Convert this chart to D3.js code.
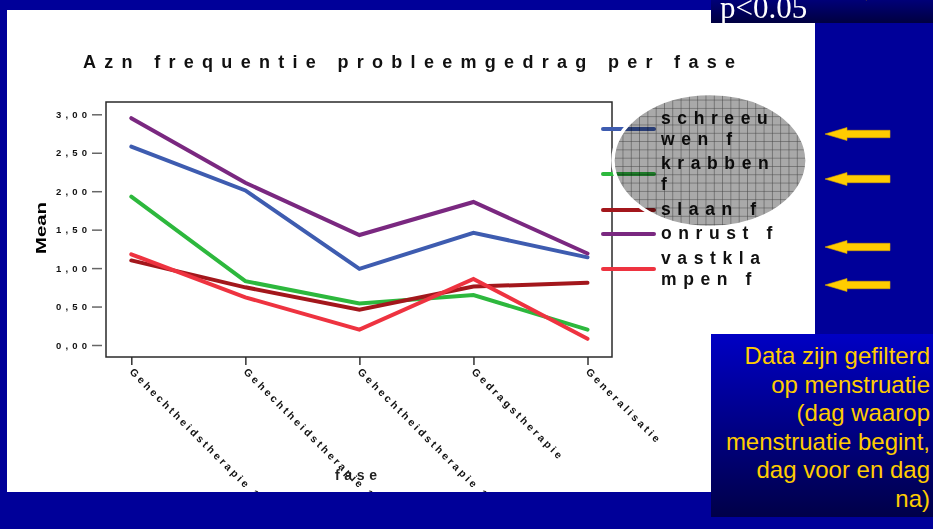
<!DOCTYPE html>
<html>
<head>
<meta charset="utf-8">
<script src="https://cdn.jsdelivr.net/npm/d3@7"></script>
<style>
  html, body { margin: 0; padding: 0; background: #000099; }
  svg { display: block; font-family: Arial, "Liberation Sans", sans-serif; }
</style>
</head>
<body>
<div id="chart"></div>
<script>
var phases = ["Gehechtheidstherapie 1", "Gehechtheidstherapie 1", "Gehechtheidstherapie 1", "Gedragstherapie", "Generalisatie"];
var seriesNames = ["schreeuwen f", "krabben f", "slaan f", "onrust f", "vastklampen f"];
var legendLines = [["schreeu", "wen f"], ["krabben", "f"], ["slaan f"], ["onrust f"], ["vastkla", "mpen f"]];
var schreeuwen = [2.58, 2.01, 0.99, 1.46, 1.14];
var krabben = [1.93, 0.83, 0.54, 0.65, 0.20];
var slaan = [1.10, 0.75, 0.46, 0.76, 0.81];
var onrust = [2.95, 2.11, 1.43, 1.86, 1.19];
var vastklampen = [1.18, 0.62, 0.20, 0.86, 0.08];
var yTicks = [0, 0.5, 1, 1.5, 2, 2.5, 3];
var colors = ["#3e5cb0", "#2db83d", "#a3171c", "#7a2880", "#ee3340"];
var noteLines = ["Data zijn gefilterd", "op menstruatie", "(dag waarop", "menstruatie begint,", "dag voor en dag", "na)"];

var series = [schreeuwen, krabben, slaan, onrust, vastklampen].map(function(v, i) {
  return {name: seriesNames[i], values: v, color: colors[i], label: legendLines[i]};
});

// layout
var W = 933, H = 529;
var frame = {left: 106, top: 102, right: 612, bottom: 357};
var legendY = [129, 174, 210, 234, 269];
var arrowY = [-6.5, 134, 179, 247, 285];
var arrowX = [845, 825, 825, 825, 825];

var svg = d3.select("#chart").append("svg")
    .attr("width", W)
    .attr("height", H);

var defs = svg.append("defs");

var grad = defs.append("linearGradient").attr("id", "noteGrad")
    .attr("x1", 0).attr("y1", 0).attr("x2", 0).attr("y2", 1);
grad.append("stop").attr("offset", "0%").attr("stop-color", "#0000c4");
grad.append("stop").attr("offset", "100%").attr("stop-color", "#000048");

var grad2 = defs.append("linearGradient").attr("id", "pGrad")
    .attr("x1", 0).attr("y1", 0).attr("x2", 0).attr("y2", 1);
grad2.append("stop").attr("offset", "0%").attr("stop-color", "#000078");
grad2.append("stop").attr("offset", "100%").attr("stop-color", "#000040");

var pat = defs.append("pattern").attr("id", "grid")
    .attr("patternUnits", "userSpaceOnUse")
    .attr("width", 8.3).attr("height", 8.3);
pat.append("rect").attr("width", 8.3).attr("height", 8.3).attr("fill", "#a9a9a9");
pat.append("path").attr("d", "M0,0H8.3M0,0V8.3")
    .attr("stroke", "#444").attr("stroke-width", 1);

svg.append("rect").attr("width", W).attr("height", H).attr("fill", "#000099");
svg.append("rect").attr("x", 7).attr("y", 10).attr("width", 808).attr("height", 482).attr("fill", "#fff");

var x = d3.scalePoint()
    .domain(d3.range(phases.length))
    .range([131.3, 587.5]);

var y = d3.scaleLinear()
    .domain([0, 3])
    .range([345, 114.3]);

svg.append("text")
    .attr("x", 83).attr("y", 68)
    .attr("textLength", 652).attr("lengthAdjust", "spacing")
    .style("font-size", "18px").style("font-weight", "bold").attr("fill", "#111")
    .text("Azn frequentie probleemgedrag per fase");

// y axis
var yAxis = svg.append("g")
    .attr("transform", "translate(102,0)")
    .call(d3.axisLeft(y).tickValues(yTicks).tickSize(10).tickPadding(5)
      .tickFormat(function(d) { return d3.format(".2f")(d).replace(".", ","); }));
yAxis.select(".domain").remove();
yAxis.selectAll("line").attr("stroke", "#666").attr("stroke-width", 1.5);
yAxis.selectAll("text")
    .attr("textLength", 31).attr("lengthAdjust", "spacing")
    .style("font-size", "9.5px").style("font-weight", "bold").attr("fill", "#111");

// x axis
var xAxis = svg.append("g")
    .attr("transform", "translate(0," + frame.bottom + ")")
    .call(d3.axisBottom(x).tickSize(8).tickFormat(function(i) { return phases[i]; }));
xAxis.select(".domain").remove();
xAxis.selectAll("line").attr("stroke", "#333").attr("stroke-width", 1.5);
xAxis.selectAll("text")
    .attr("x", 9).attr("y", 13).attr("dy", 0)
    .attr("transform", "rotate(45)")
    .style("text-anchor", "start")
    .style("font-size", "10.5px").style("font-weight", "bold")
    .style("letter-spacing", "2.8px").attr("fill", "#111");

svg.append("text")
    .attr("x", 335).attr("y", 480)
    .attr("textLength", 42).attr("lengthAdjust", "spacing")
    .style("font-size", "14px").style("font-weight", "bold").attr("fill", "#222")
    .text("fase");

svg.append("text")
    .attr("transform", "translate(46,228) rotate(-90)")
    .attr("text-anchor", "middle")
    .attr("textLength", 52).attr("lengthAdjust", "spacingAndGlyphs")
    .style("font-size", "14px").style("font-weight", "bold")
    .text("Mean");

var line = d3.line()
    .x(function(d, i) { return x(i); })
    .y(function(d) { return y(d); });

svg.selectAll(".series")
    .data(series)
    .enter().append("path")
      .attr("class", "series")
      .attr("d", function(d) { return line(d.values); })
      .attr("fill", "none")
      .attr("stroke", function(d) { return d.color; })
      .attr("stroke-width", 4)
      .attr("stroke-linecap", "round");

svg.append("rect")
    .attr("x", frame.left).attr("y", frame.top)
    .attr("width", frame.right - frame.left).attr("height", frame.bottom - frame.top)
    .attr("fill", "none").attr("stroke", "#2a2a2a").attr("stroke-width", 1.5);

// legend
var leg = svg.selectAll(".leg")
    .data(series)
    .enter().append("g")
      .attr("class", "leg")
      .attr("transform", function(d, i) { return "translate(0," + legendY[i] + ")"; });

leg.append("line")
    .attr("x1", 603).attr("x2", 654)
    .attr("stroke", function(d) { return d.color; })
    .attr("stroke-width", 4)
    .attr("stroke-linecap", "round");

svg.append("ellipse")
    .attr("cx", 710).attr("cy", 160.5).attr("rx", 96.5).attr("ry", 66.5)
    .attr("fill", "url(#grid)")
    .style("mix-blend-mode", "multiply");
svg.append("ellipse")
    .attr("cx", 710).attr("cy", 160.5).attr("rx", 97).attr("ry", 67)
    .attr("fill", "none").attr("stroke", "#fff").attr("stroke-width", 3.5);

leg.selectAll("text")
    .data(function(d) { return d.label; })
    .enter().append("text")
      .attr("x", 661)
      .attr("y", function(t, j, nodes) { return 5 - (nodes.length - 1) * 10 + j * 21; })
      .style("font-size", "17.5px").style("font-weight", "bold")
      .style("letter-spacing", "6.6px").attr("fill", "#111")
      .text(function(t) { return t; });

// p-value box and arrows
svg.append("rect").attr("x", 711).attr("y", 0).attr("width", 222).attr("height", 23)
    .attr("fill", "url(#pGrad)");
svg.append("text")
    .attr("x", 720).attr("y", 18)
    .style("font-family", "'Liberation Serif', 'Times New Roman', serif")
    .style("font-size", "31px").attr("fill", "#fff")
    .text("p<0.05");

svg.selectAll(".arrow")
    .data(arrowY)
    .enter().append("path")
      .attr("class", "arrow")
      .attr("transform", function(d, i) { return "translate(" + arrowX[i] + "," + d + ")"; })
      .attr("d", "M0,0L22,-6.5L22,-3.7L65,-3.7L65,3.7L22,3.7L22,6.5Z")
      .attr("fill", "#ffcc00")
      .attr("stroke", "#d9a400").attr("stroke-width", 0.6);

// note
svg.append("rect").attr("x", 711).attr("y", 334).attr("width", 222).attr("height", 183)
    .attr("fill", "url(#noteGrad)");
svg.selectAll(".note")
    .data(noteLines)
    .enter().append("text")
      .attr("class", "note")
      .attr("x", 930)
      .attr("y", function(d, i) { return 364 + i * 28.5; })
      .attr("text-anchor", "end")
      .style("font-size", "24px").attr("fill", "#ffcc00")
      .text(function(d) { return d; });

// bottom band covers clipped axis labels
svg.append("rect").attr("x", 0).attr("y", 492).attr("width", 711).attr("height", 37).attr("fill", "#000099");
</script>
</body>
</html>
